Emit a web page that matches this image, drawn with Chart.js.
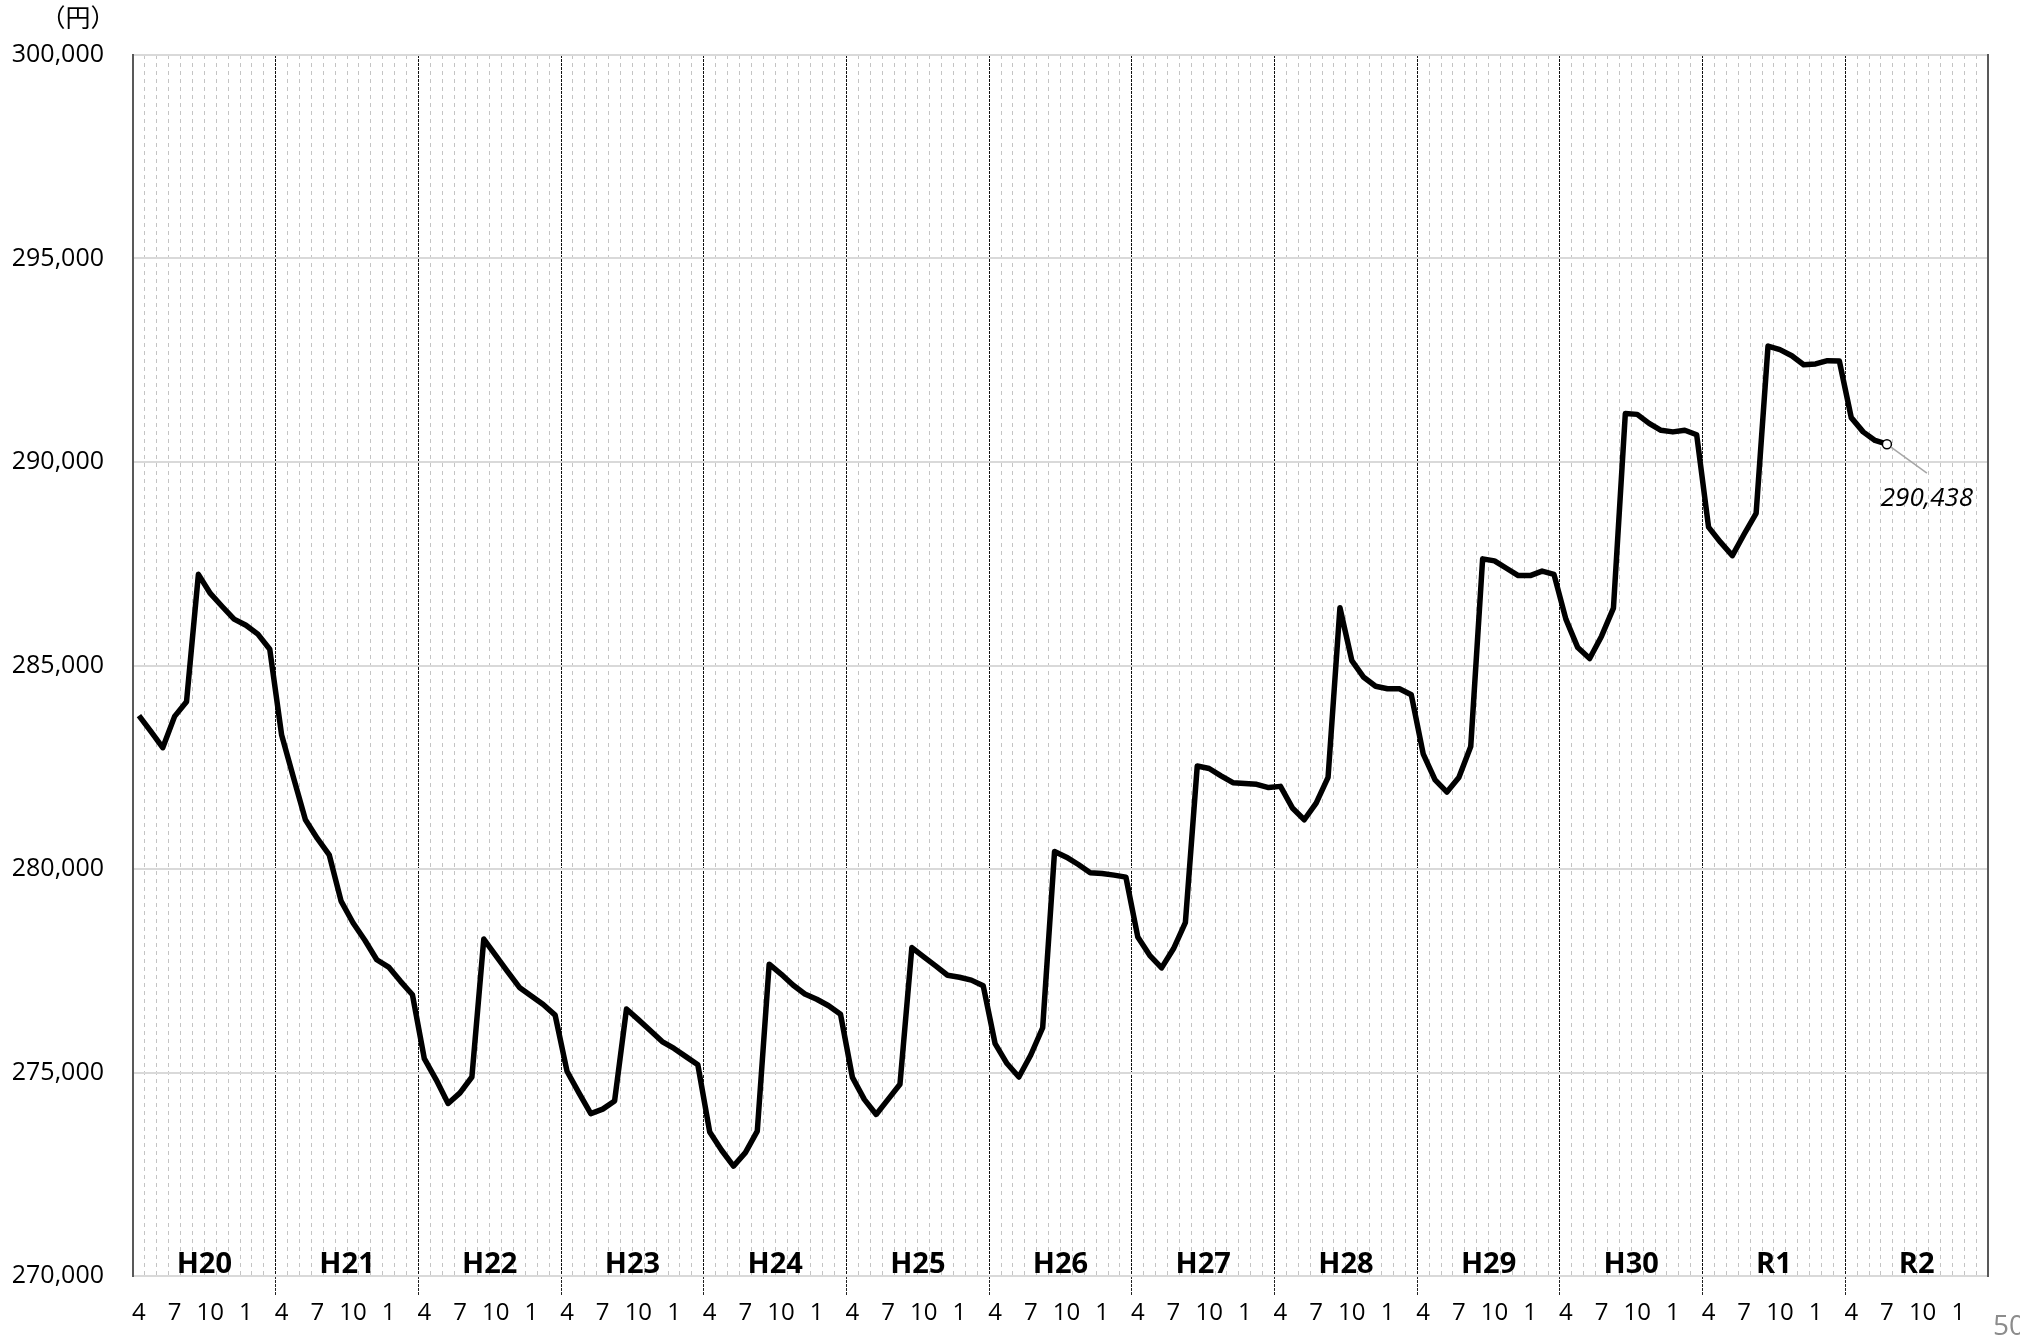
<!DOCTYPE html>
<html lang="ja">
<head>
  <meta charset="UTF-8">
  <title>月額賃金の推移</title>
  <script src="https://cdn.jsdelivr.net/npm/chart.js"></script>
  <style>
    html, body { margin: 0; padding: 0; background: #fff; overflow: hidden; }
    .wrap { position: relative; width: 2020px; height: 1341px; }
    #page-no {
      position: absolute; left: 1993px; top: 1310px;
      font: 28px "Open Sans", sans-serif; line-height: 1; color: #8c8c8c;
    }
  </style>
</head>
<body>
  <div class="wrap">
    <canvas id="wageChart" width="2020" height="1341"></canvas>
    <div id="page-no">50</div>
  </div>

  <script>
    // fiscal years (April - March) and the month ticks shown under each year
    const yearLabels = ['H20', 'H21', 'H22', 'H23', 'H24', 'H25', 'H26', 'H27', 'H28', 'H29', 'H30', 'R1', 'R2'];
    const monthLabels = [4, 5, 6, 7, 8, 9, 10, 11, 12, 1, 2, 3];
    const tickMonths = [4, 7, 10, 1];

    // monthly values (円), one array per fiscal year
    const fyH20 = [283770, 283380, 282980, 283750, 284110, 287240, 286770, 286450, 286140, 285990, 285770, 285400];
    const fyH21 = [283290, 282240, 281210, 280750, 280350, 279210, 278680, 278250, 277770, 277590, 277240, 276910];
    const fyH22 = [275340, 274820, 274240, 274500, 274890, 278280, 277880, 277480, 277090, 276880, 276670, 276410];
    const fyH23 = [275030, 274500, 273990, 274100, 274300, 276560, 276300, 276030, 275760, 275590, 275390, 275190];
    const fyH24 = [273540, 273090, 272700, 273030, 273560, 277660, 277420, 277150, 276930, 276800, 276640, 276430];
    const fyH25 = [274880, 274340, 273970, 274340, 274710, 278070, 277840, 277620, 277390, 277340, 277270, 277130];
    const fyH26 = [275710, 275220, 274890, 275430, 276100, 280430, 280290, 280110, 279910, 279890, 279850, 279800];
    const fyH27 = [278330, 277880, 277570, 278040, 278680, 282530, 282470, 282290, 282120, 282100, 282080, 282000];
    const fyH28 = [282030, 281500, 281210, 281620, 282250, 286420, 285120, 284710, 284490, 284430, 284430, 284280];
    const fyH29 = [282830, 282190, 281890, 282250, 283010, 287620, 287570, 287390, 287210, 287210, 287320, 287240];
    const fyH30 = [286140, 285440, 285170, 285720, 286410, 291190, 291170, 290950, 290780, 290740, 290780, 290670];
    const fyR1  = [288400, 288030, 287700, 288230, 288740, 292850, 292760, 292610, 292390, 292410, 292490, 292480];
    const fyR2  = [291090, 290740, 290530, 290438];

    const series = [].concat(fyH20, fyH21, fyH22, fyH23, fyH24, fyH25, fyH26,
                             fyH27, fyH28, fyH29, fyH30, fyR1, fyR2);
    const axisLabels = yearLabels.flatMap(() => monthLabels.map(String));
    const lastIdx = series.length - 1;

    const clear = 'rgba(0,0,0,0)';
    const fontFamily = '"Open Sans", "Noto Sans", sans-serif';

    // year names, unit and the value label at the last point
    const overlay = {
      id: 'overlay',
      afterDatasetsDraw(chart) {
        const { ctx, chartArea } = chart;
        const x2 = chart.scales.x2;
        ctx.save();

        ctx.fillStyle = '#000';
        ctx.textAlign = 'center';
        ctx.textBaseline = 'alphabetic';
        ctx.font = 'bold 29px ' + fontFamily;
        yearLabels.forEach((name, i) => {
          ctx.fillText(name, x2.getPixelForValue(i), chartArea.bottom - 3);
        });

        ctx.font = '25px "Noto Sans CJK JP", sans-serif';
        ctx.textBaseline = 'middle';
        ctx.fillText('（円）', 78, 17);

        const pt = chart.getDatasetMeta(0).data[lastIdx];
        const dx = 40, dy = 29;
        const len = Math.hypot(dx, dy);
        ctx.strokeStyle = '#a6a6a6';
        ctx.lineWidth = 1.5;
        ctx.beginPath();
        ctx.moveTo(pt.x + dx / len * 5, pt.y + dy / len * 5);
        ctx.lineTo(pt.x + dx, pt.y + dy);
        ctx.stroke();

        ctx.font = 'italic 26px ' + fontFamily;
        ctx.textBaseline = 'alphabetic';
        ctx.fillText(series[lastIdx].toLocaleString('en-US'), pt.x + 40, pt.y + 62);
        ctx.restore();
      }
    };

    new Chart(document.getElementById('wageChart'), {
      type: 'line',
      data: {
        labels: axisLabels,
        datasets: [{
          data: series,
          borderColor: '#000',
          borderWidth: 5.5,
          borderJoinStyle: 'round',
          tension: 0,
          fill: false,
          pointRadius: c => (c.dataIndex === lastIdx ? 4.5 : 0),
          pointHoverRadius: 0,
          pointBackgroundColor: '#fff',
          pointBorderColor: '#000',
          pointBorderWidth: 1.5
        }]
      },
      options: {
        responsive: false,
        animation: false,
        events: [],
        layout: { padding: { left: 0, right: 32, top: 55, bottom: 0 } },
        plugins: { legend: { display: false }, tooltip: { enabled: false } },
        scales: {
          x: {
            type: 'category',
            position: 'bottom',
            offset: true,
            grid: {
              offset: true,
              lineWidth: 1,
              color: c => (c.index === undefined || c.index % 12 === 0 ? clear : '#c4c4c4'),
              drawTicks: true,
              tickLength: 19,
              tickWidth: 1,
              tickBorderDash: [3, 1],
              tickColor: c => (c.index !== undefined && c.index > 0 && c.index % 12 === 0 ? '#222' : clear)
            },
            border: { display: false, dash: [4, 4] },
            ticks: {
              autoSkip: false,
              maxRotation: 0,
              minRotation: 0,
              padding: 4,
              color: '#000',
              font: { family: fontFamily, size: 24 },
              callback(value) {
                const m = this.getLabelForValue(value);
                return tickMonths.includes(Number(m)) ? m : '';
              }
            },
            afterFit: s => { s.height = 65; }
          },
          // fiscal-year boundaries
          x2: {
            type: 'category',
            labels: yearLabels,
            position: 'top',
            offset: true,
            grid: {
              offset: true,
              drawTicks: false,
              lineWidth: 1,
              color: c => (c.index === undefined || c.index === 0 ? clear : '#111')
            },
            border: { display: false, dash: [3, 1] },
            ticks: { display: false },
            afterFit: s => { s.height = 0; }
          },
          y: {
            min: 270000,
            max: 300000,
            ticks: {
              stepSize: 5000,
              padding: 29,
              color: '#000',
              font: { family: fontFamily, size: 25 },
              callback: v => v.toLocaleString('en-US')
            },
            grid: { color: '#d9d9d9', lineWidth: 2, drawTicks: false },
            border: { color: '#595959', width: 2 },
            afterFit: s => { s.width = 133; }
          },
          y2: {
            position: 'right',
            min: 270000,
            max: 300000,
            ticks: { display: false },
            grid: { drawOnChartArea: false, drawTicks: false },
            border: { color: '#595959', width: 2 },
            afterFit: s => { s.width = 0; }
          }
        }
      },
      plugins: [overlay]
    });
  </script>
</body>
</html>
